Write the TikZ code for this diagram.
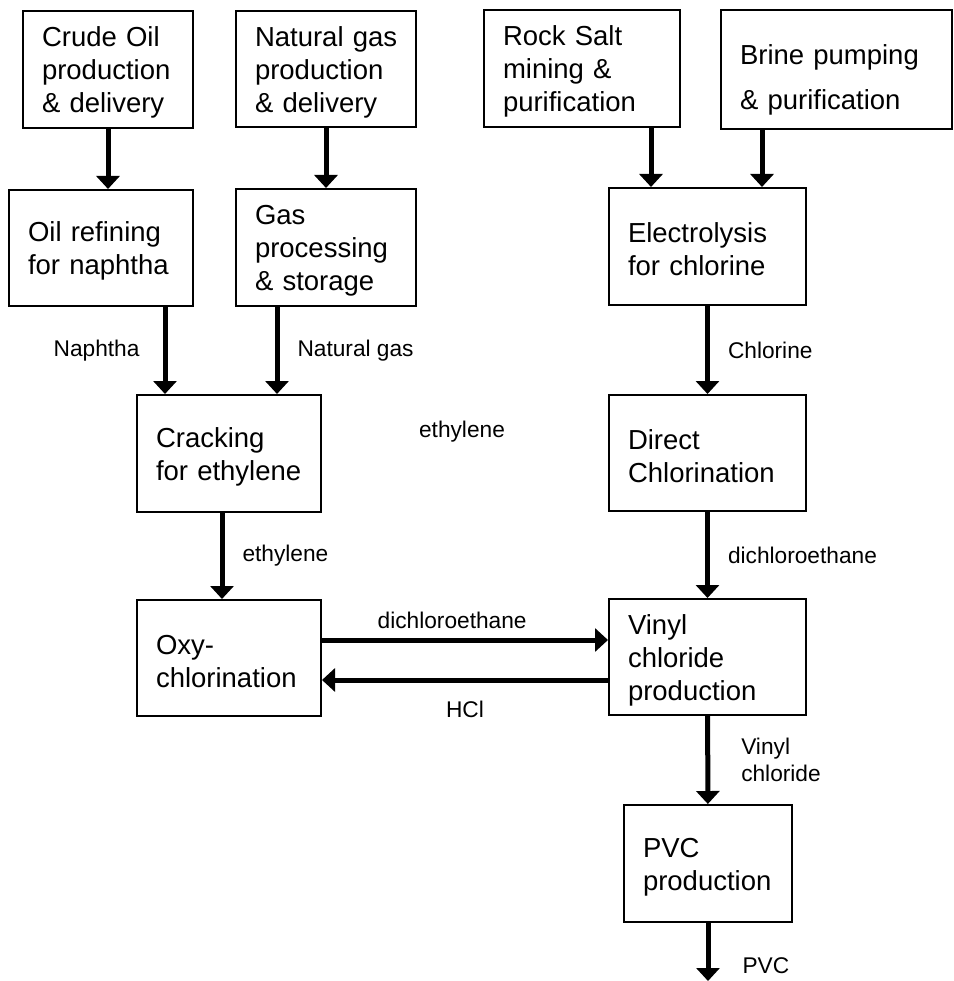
\documentclass[tikz,border=0pt]{standalone}
\usepackage{fontspec}
\setmainfont{Liberation Sans}
\usetikzlibrary{arrows.meta}
\newcommand{\boxfont}{\fontsize{27.5}{33}\selectfont}
\newcommand{\tagfont}{\fontsize{22.7}{27}\selectfont}
\tikzset{
  stage/.style={draw, line width=2pt, align=left, inner xsep=19pt, inner ysep=0pt, font=\boxfont,
    execute at begin node={\rule{0pt}{26pt}}},
  flow/.style={line width=5pt, -{Triangle[width=23pt,length=13pt]}},
  tag/.style={font=\tagfont, inner sep=0pt, align=left}
}
\begin{document}
\begin{tikzpicture}[x=1pt, y=-1pt]
        \useasboundingbox (0,0) rectangle (953,981);
        % raw materials
        \node[stage, text width=132pt, minimum height=117pt] (crude) at (108,69.5) {Crude~Oil\\production\\\&~delivery};
        \node[stage, text width=142pt, minimum height=116pt] (natprod) at (326,69) {Natural~gas\\production\\\&~delivery};
        \node[stage, text width=158pt, minimum height=117pt] (rock) at (582,68.5) {Rock~Salt\\mining~\&\\purification};
        \node[stage, text width=193pt, minimum height=119pt] (brine) at (836.5,69.5) {\rule{0pt}{40pt}Brine~pumping\\[12pt]\&~purification};
        % first processing
        \node[stage, text width=146pt, minimum height=116pt] (refine) at (101,248) {Oil~refining\\for~naphtha};
        \node[stage, text width=142pt, minimum height=117pt] (gasproc) at (326,247.5) {Gas\\processing\\\&~storage};
        \node[stage, text width=159pt, minimum height=117pt] (elec) at (707.5,246.5) {Electrolysis\\for~chlorine};
        \node[stage, text width=146pt, minimum height=117pt] (crack) at (229,453.5) {Cracking\\for~ethylene};
        \node[stage, text width=159pt, minimum height=116pt] (direct) at (707.5,453) {Direct\\Chlorination};
        \node[stage, text width=146pt, minimum height=116pt] (oxy) at (229,658) {Oxy-\\chlorination};
        \node[stage, text width=159pt, minimum height=116pt] (vinyl) at (707.5,657) {Vinyl\\chloride\\production};
        \node[stage, text width=130pt, minimum height=117pt] (pvc) at (708,863.5) {PVC\\production};
        \node[tag] (ethylene) at (462,432) {ethylene};

        \coordinate (oilin) at ([xshift=29pt]crack.north west);
        \coordinate (gasin) at ([xshift=141pt]crack.north west);
        \coordinate (rockin) at ([xshift=43pt]elec.north west);
        \coordinate (brinein) at ([xshift=154pt]elec.north west);
        \coordinate (ethout) at ([xshift=-7pt]crack.south);
        \coordinate (dceout) at ([yshift=18pt]oxy.east);
        \coordinate (hclout) at ([yshift=-23pt]vinyl.west);
        \coordinate (pvcout) at (708,981);

        \draw[flow] (crude) -- (crude |- refine.north);
        \draw[flow] (natprod) -- (natprod |- gasproc.north);
        \draw[flow] (rockin |- rock.south) -- (rockin);
        \draw[flow] (brinein |- brine.south) -- (brinein);
        \draw[flow] (oilin |- refine.south) -- node[tag, left=23pt] {Naphtha} (oilin);
        \draw[flow] (gasin |- gasproc.south) -- node[tag, right=18pt] {Natural gas} (gasin);
        \draw[flow] (elec) -- node[tag, right=18pt] {Chlorine} (direct);
        \draw[flow] (ethout) -- node[tag, right=18pt] {ethylene} (ethout |- oxy.north);
        \draw[flow] (direct) -- node[tag, right=18pt] {dichloroethane} (vinyl);
        \draw[flow] (dceout) -- node[tag, pos=0.455, above=9pt] {dichloroethane} (dceout -| vinyl.west);
        \draw[flow] (hclout) -- node[tag, below=19pt] {HCl} (hclout -| oxy.east);
        \draw[flow] (vinyl) -- node[tag, right=31pt] {Vinyl\\chloride} (pvc);
        \draw[flow] (pvc) -- node[tag, pos=0.73, right=32pt] {PVC} (pvcout);
    \end{tikzpicture}
\end{document}
